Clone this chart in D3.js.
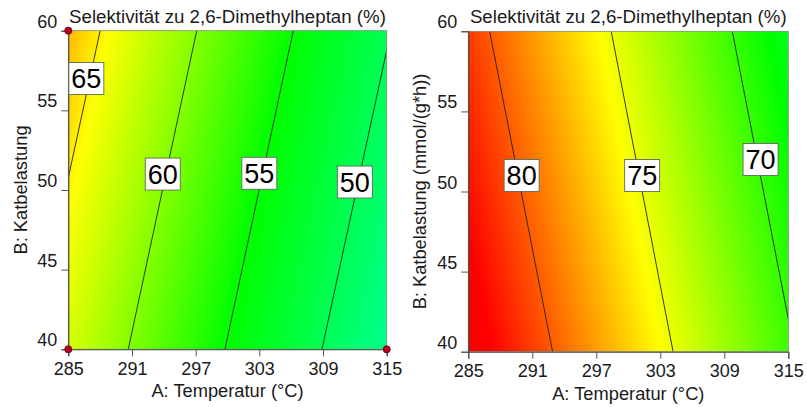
<!DOCTYPE html>
<html>
<head>
<meta charset="utf-8">
<script src="https://cdn.jsdelivr.net/npm/d3@7"></script>
<style>
  body { margin: 0; background: #fff; }
  svg { display: block; font-family: Arial, "Liberation Sans", sans-serif; }
</style>
</head>
<body>
<svg id="chart" width="807" height="407"></svg>
<script>
// Shared axis definitions
const tempTicks = [285, 291, 297, 303, 309, 315];
const loadTicks = [40, 45, 50, 55, 60];
const titleText = "Selektivität zu 2,6-Dimethylheptan (%)";
const xTitleText = "A: Temperatur (°C)";

// Colour ramp shared by both panels (low -> high response)
const rampColors = ["#00ffff", "#00ff00", "#ffff00", "#ff0000"];

// Left panel: contour levels, temperature where each level crosses load 40 and load 60
const leftLevels = [65, 60, 55, 50];
const leftTempAt40 = [281.5, 290.65, 299.76, 308.9];
const leftTempAt60 = [288.0, 297.1, 306.2, 315.4];
const leftLabelTemp = [286.7, 293.9, 303.0, 312.0];
const leftLabelLoad = [57.0, 51.0, 51.05, 50.5];
const leftRampValues = [40, 55, 64.6, 72];
const leftYTitle = "B: Katbelastung";
const designTemp = [285, 285, 315];
const designLoad = [60, 40, 40];

// Right panel
const rightLevels = [80, 75, 70];
const rightTempAt40 = [292.9, 304.2, 315.6];
const rightTempAt60 = [287.0, 298.4, 309.75];
const rightLabelTemp = [290.0, 301.3, 312.4];
const rightLabelLoad = [51.0, 51.0, 52.0];
const rightRampValues = [61.5, 68.5, 75.5, 82.5];
const rightYTitle = "B: Katbelastung (mmol/(g*h))";

const svg = d3.select("#chart");

function drawPanel(cfg) {
  const x = d3.scaleLinear().domain([285, 315]).range([cfg.left, cfg.right]);
  const y = d3.scaleLinear().domain([40, 60]).range([cfg.bottom, cfg.top]);
  const g = svg.append("g");
  const clipId = "clip-" + cfg.id;
  svg.append("clipPath").attr("id", clipId)
    .append("rect").attr("x", cfg.left).attr("y", cfg.top)
    .attr("width", cfg.right - cfg.left).attr("height", cfg.bottom - cfg.top);

  // Response field: along each load row, the value runs linearly between the contour crossings
  const color = d3.scaleLinear().domain(cfg.rampValues).range(rampColors).clamp(true);
  const w = Math.round(cfg.right - cfg.left), h = Math.round(cfg.bottom - cfg.top);
  const canvas = document.createElement("canvas");
  canvas.width = w; canvas.height = h;
  const ctx = canvas.getContext("2d");
  const img = ctx.createImageData(w, h);
  const order = d3.range(cfg.levels.length);
  for (let j = 0; j < h; j++) {
    const B = y.invert(cfg.top + (j + 0.5) * (cfg.bottom - cfg.top) / h);
    const f = (B - 40) / 20;
    const crossings = order.map(k => cfg.t40[k] + f * (cfg.t60[k] - cfg.t40[k]));
    const idx = order.slice().sort((a, b) => crossings[a] - crossings[b]);
    const rowValue = d3.scaleLinear()
      .domain(idx.map(k => crossings[k]))
      .range(idx.map(k => cfg.levels[k]));
    for (let i = 0; i < w; i++) {
      const T = x.invert(cfg.left + (i + 0.5) * (cfg.right - cfg.left) / w);
      const c = d3.rgb(color(rowValue(T)));
      const p = (j * w + i) * 4;
      img.data[p] = c.r; img.data[p + 1] = c.g; img.data[p + 2] = c.b; img.data[p + 3] = 255;
    }
  }
  ctx.putImageData(img, 0, 0);
  g.append("image")
    .attr("x", cfg.left).attr("y", cfg.top)
    .attr("width", cfg.right - cfg.left).attr("height", cfg.bottom - cfg.top)
    .attr("preserveAspectRatio", "none")
    .attr("href", canvas.toDataURL());

  // Contour lines
  const line = d3.line().x(d => x(d[0])).y(d => y(d[1]));
  g.append("g").attr("clip-path", `url(#${clipId})`)
    .selectAll("path").data(order).join("path")
    .attr("d", k => line([[cfg.t40[k], 40], [cfg.t60[k], 60]]))
    .attr("fill", "none").attr("stroke", "#222").attr("stroke-width", 0.9);

  // Plot frame
  g.append("rect")
    .attr("x", cfg.left).attr("y", cfg.top)
    .attr("width", cfg.right - cfg.left).attr("height", cfg.bottom - cfg.top)
    .attr("fill", "none").attr("stroke", "#7d8a7d").attr("stroke-width", 0.8);

  // Axes
  const xAxis = g.append("g").attr("transform", `translate(0,${cfg.bottom})`)
    .call(d3.axisBottom(x).tickValues(tempTicks).tickSize(7).tickPadding(6).tickFormat(d3.format("d")));
  const yAxis = g.append("g").attr("transform", `translate(${cfg.left},0)`)
    .call(d3.axisLeft(y).tickValues(loadTicks).tickSize(7).tickPadding(4).tickFormat(d3.format("d")));
  [xAxis, yAxis].forEach(a => {
    a.select(".domain").attr("stroke", "#444").attr("stroke-width", 1.1);
    a.selectAll(".tick line").attr("stroke", "#555");
    a.selectAll(".tick text").attr("fill", "#1a1a1a").style("font-size", "18px")
      .attr("font-family", null);
  });
  yAxis.selectAll(".tick text").attr("dy", "-3.5");

  // Titles
  g.append("text").attr("x", (cfg.left + cfg.right) / 2).attr("y", cfg.top - 8)
    .attr("text-anchor", "middle").style("font-size", "18.7px").attr("fill", "#1a1a1a")
    .text(titleText);
  g.append("text").attr("x", (cfg.left + cfg.right) / 2).attr("y", cfg.bottom + 48)
    .attr("text-anchor", "middle").style("font-size", "18.3px").attr("fill", "#1a1a1a")
    .text(xTitleText);
  g.append("text")
    .attr("transform", `translate(${cfg.yTitleX},${(cfg.top + cfg.bottom) / 2}) rotate(-90)`)
    .attr("text-anchor", "middle").style("font-size", "18.3px").attr("fill", "#1a1a1a")
    .text(cfg.yTitle);

  // Contour labels in boxes
  const labels = g.append("g").selectAll("g").data(order).join("g")
    .attr("transform", k => `translate(${x(cfg.labelTemp[k])},${y(cfg.labelLoad[k])})`);
  labels.append("rect")
    .attr("x", -17.5).attr("y", -16)
    .attr("width", 35).attr("height", 32)
    .attr("fill", "#fff").attr("stroke", "#5a6a5a").attr("stroke-width", 0.9);
  labels.append("text")
    .attr("text-anchor", "middle").attr("dy", "0.36em")
    .style("font-size", "27px").attr("fill", "#000")
    .text(k => cfg.levels[k]);

  // Design points
  if (cfg.points) {
    g.append("g").selectAll("circle").data(d3.range(designTemp.length)).join("circle")
      .attr("cx", i => x(designTemp[i])).attr("cy", i => y(designLoad[i]))
      .attr("r", 3.6).attr("fill", "#b3001b").attr("stroke", "#6a0010").attr("stroke-width", 0.8);
  }
}

drawPanel({
  id: "left", left: 68.3, right: 386.7, top: 30.7, bottom: 349.3,
  levels: leftLevels, t40: leftTempAt40, t60: leftTempAt60,
  labelTemp: leftLabelTemp, labelLoad: leftLabelLoad,
  rampValues: leftRampValues, yTitle: leftYTitle, yTitleX: 27, points: true
});
drawPanel({
  id: "right", left: 468.3, right: 788.3, top: 31.3, bottom: 351.7,
  levels: rightLevels, t40: rightTempAt40, t60: rightTempAt60,
  labelTemp: rightLabelTemp, labelLoad: rightLabelLoad,
  rampValues: rightRampValues, yTitle: rightYTitle, yTitleX: 426, points: false
});
</script>
</body>
</html>
